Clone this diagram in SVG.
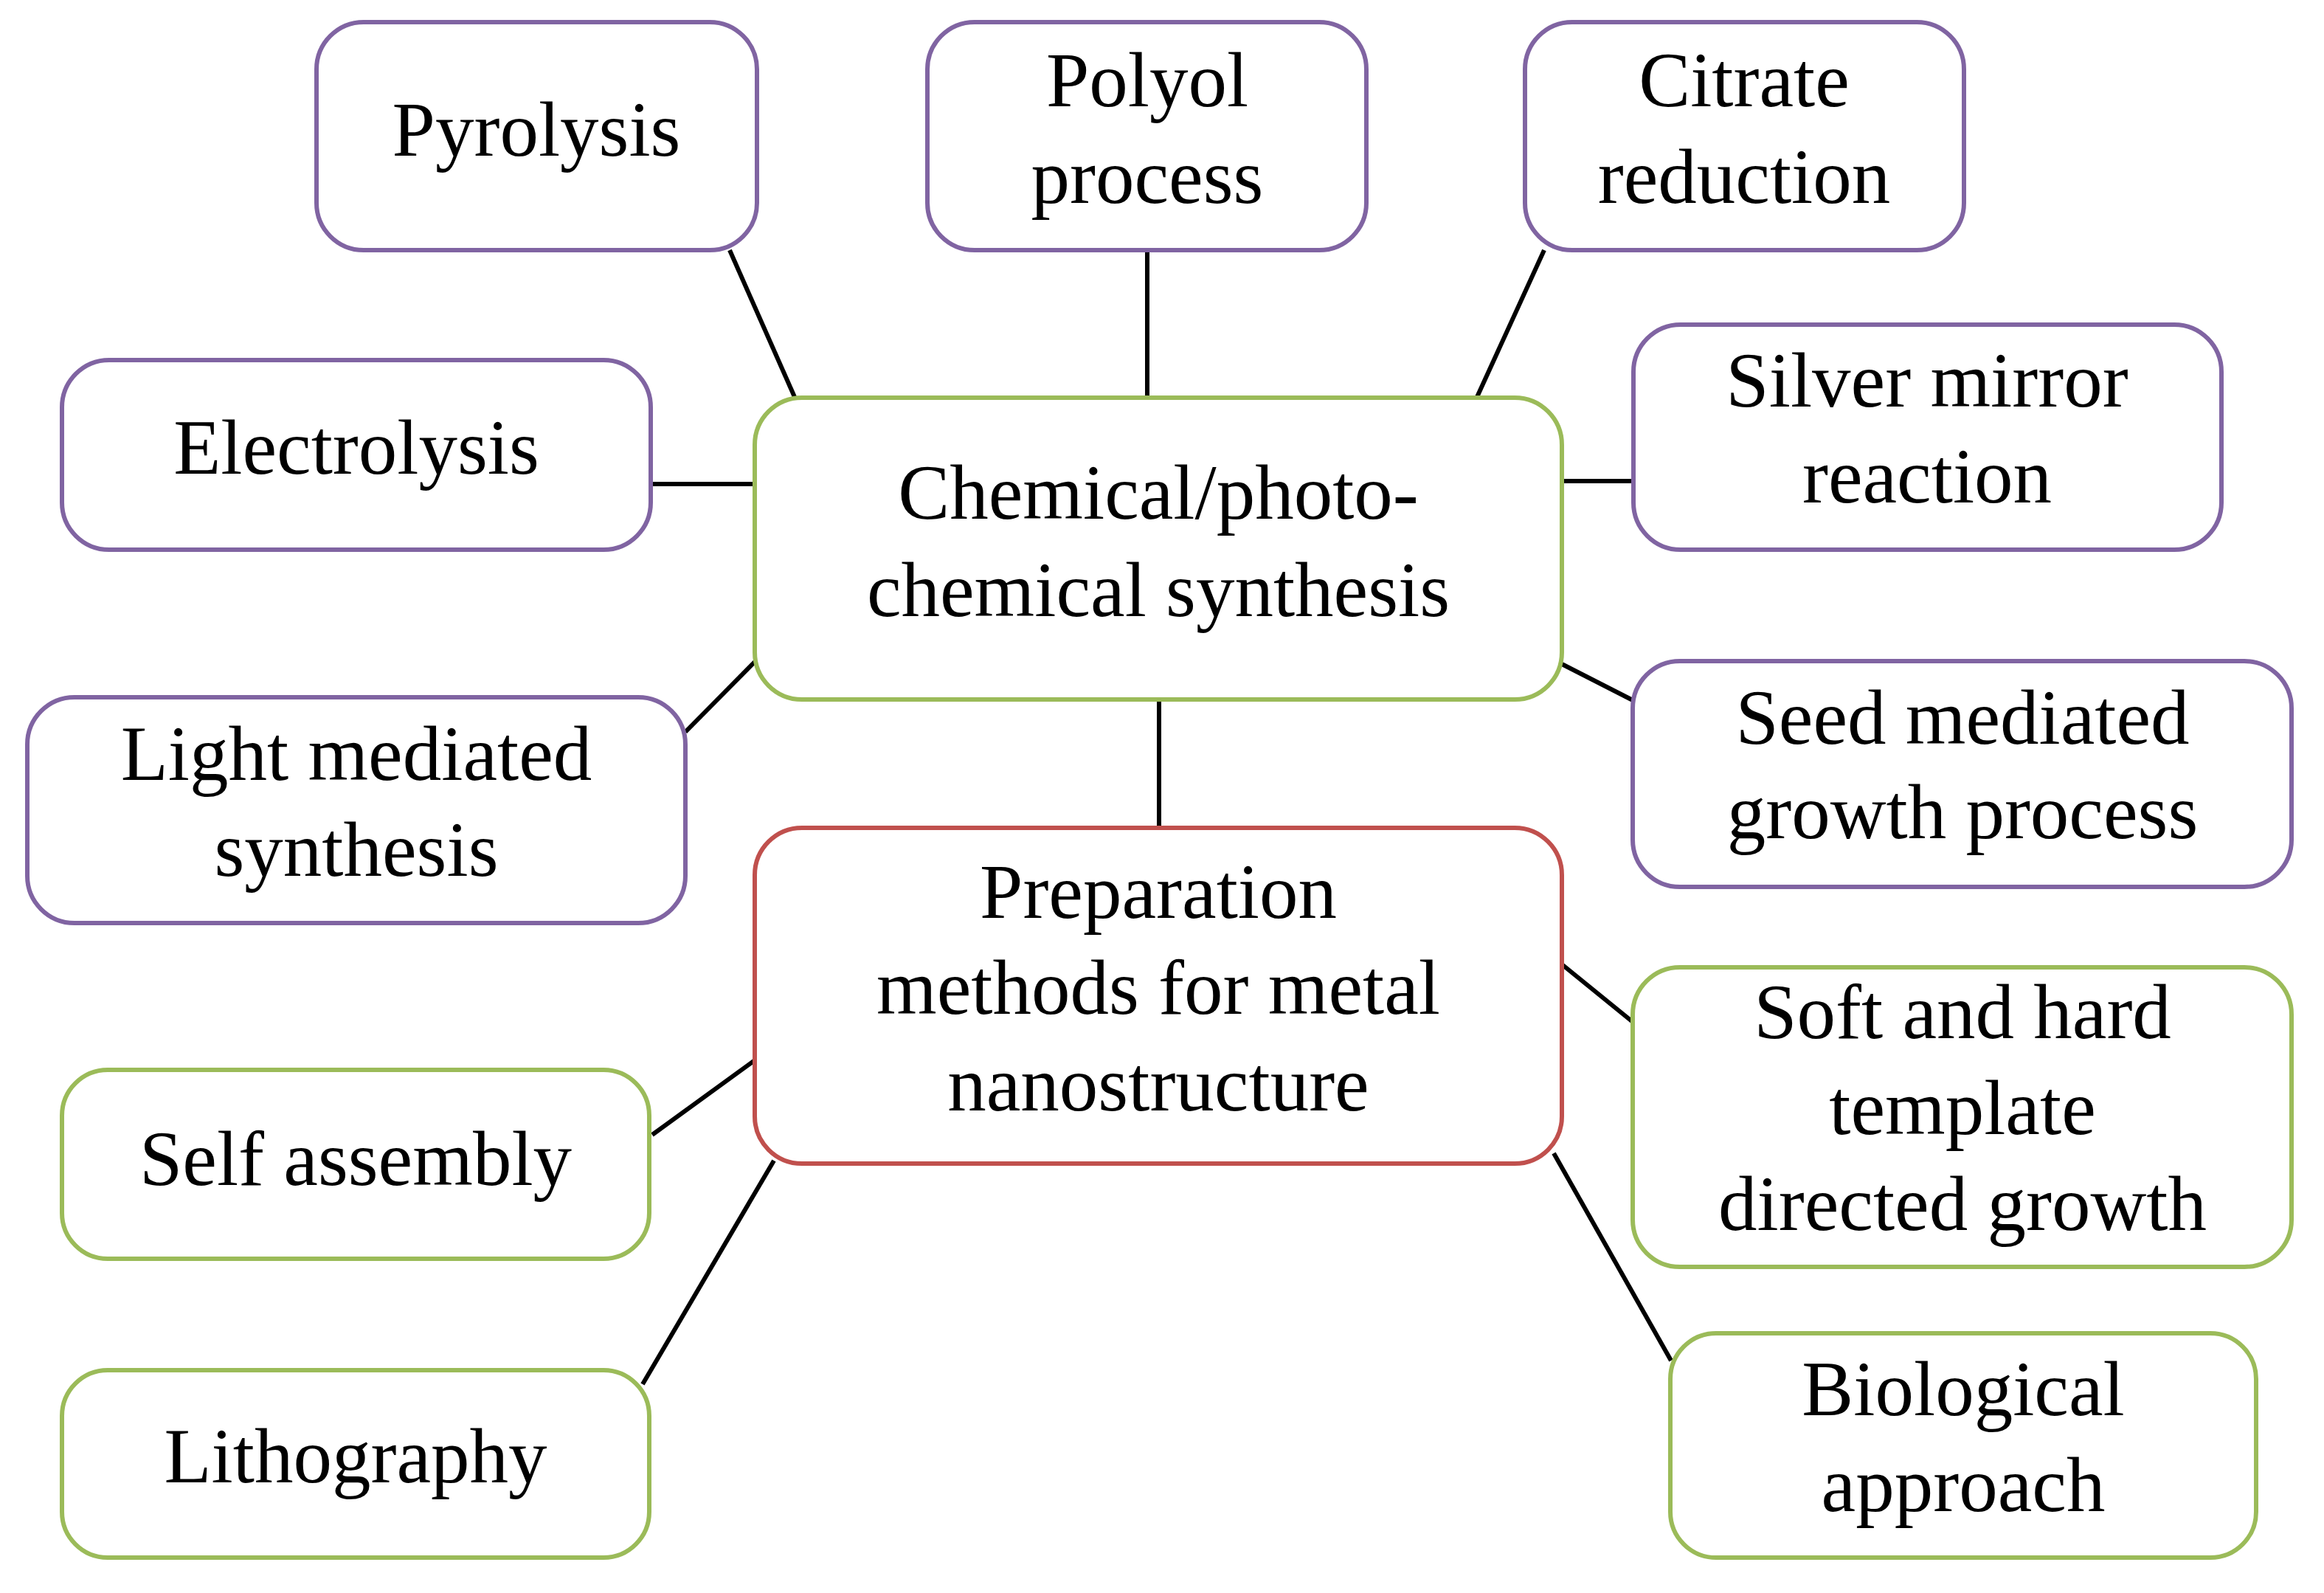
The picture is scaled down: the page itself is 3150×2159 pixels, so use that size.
<svg xmlns="http://www.w3.org/2000/svg" width="3150" height="2159" viewBox="0 0 3150 2159">
<style>
.box{fill:#ffffff;stroke-width:6}
.p{stroke:#8064a2}
.g{stroke:#9bbb59}
.r{stroke:#c0504d}
.t{font-family:"Liberation Serif","Times New Roman",serif;font-size:105px;fill:#000000;text-anchor:middle}
#connectors line{stroke:#000000;stroke-width:6}
</style>
<rect width="3150" height="2159" fill="#ffffff"/>
<g id="connectors">
<line x1="989" y1="339" x2="1077" y2="538"/>
<line x1="1555" y1="339" x2="1555" y2="538"/>
<line x1="2093" y1="339" x2="2002" y2="538"/>
<line x1="882" y1="656" x2="1023" y2="656"/>
<line x1="2117" y1="652" x2="2214" y2="652"/>
<line x1="929" y1="992" x2="1023" y2="897"/>
<line x1="2117" y1="900" x2="2213" y2="949"/>
<line x1="1571" y1="948" x2="1571" y2="1121"/>
<line x1="2117" y1="1307" x2="2213" y2="1385"/>
<line x1="884" y1="1538" x2="1023" y2="1437"/>
<line x1="871" y1="1876" x2="1049" y2="1573"/>
<line x1="2106" y1="1563" x2="2265" y2="1844"/>
</g>
<g id="pyrolysis">
<rect class="box p" x="429" y="30" width="597" height="309" rx="64"/>
<text class="t" x="727" y="211">Pyrolysis</text>
</g>
<g id="polyol">
<rect class="box p" x="1257" y="30" width="595" height="309" rx="64"/>
<text class="t" x="1555" y="144">Polyol</text>
<text class="t" x="1555" y="275">process</text>
</g>
<g id="citrate">
<rect class="box p" x="2067" y="30" width="595" height="309" rx="64"/>
<text class="t" x="2364" y="144">Citrate</text>
<text class="t" x="2364" y="275">reduction</text>
</g>
<g id="electrolysis">
<rect class="box p" x="84" y="488" width="798" height="257" rx="64"/>
<text class="t" x="483" y="642">Electrolysis</text>
</g>
<g id="silver">
<rect class="box p" x="2214" y="440" width="797" height="305" rx="64"/>
<text class="t" x="2612" y="551">Silver mirror</text>
<text class="t" x="2612" y="681">reaction</text>
</g>
<g id="chemical">
<rect class="box g" x="1023" y="539" width="1094" height="409" rx="64"/>
<text class="t" x="1570" y="703">Chemical/photo-</text>
<text class="t" x="1570" y="835">chemical synthesis</text>
</g>
<g id="light">
<rect class="box p" x="37" y="945" width="892" height="306" rx="64"/>
<text class="t" x="483" y="1057">Light mediated</text>
<text class="t" x="483" y="1187">synthesis</text>
</g>
<g id="seed">
<rect class="box p" x="2213" y="896" width="893" height="306" rx="64"/>
<text class="t" x="2660" y="1008">Seed mediated</text>
<text class="t" x="2660" y="1136">growth process</text>
</g>
<g id="preparation">
<rect class="box r" x="1023" y="1122" width="1094" height="455" rx="64"/>
<text class="t" x="1570" y="1244">Preparation</text>
<text class="t" x="1570" y="1374">methods for metal</text>
<text class="t" x="1570" y="1505">nanostructure</text>
</g>
<g id="soft">
<rect class="box g" x="2213" y="1311" width="893" height="406" rx="64"/>
<text class="t" x="2660" y="1407">Soft and hard</text>
<text class="t" x="2660" y="1537">template</text>
<text class="t" x="2660" y="1667">directed growth</text>
</g>
<g id="self">
<rect class="box g" x="84" y="1450" width="796" height="256" rx="62"/>
<text class="t" x="482" y="1606">Self assembly</text>
</g>
<g id="lithography">
<rect class="box g" x="84" y="1857" width="796" height="254" rx="62"/>
<text class="t" x="482" y="2009">Lithography</text>
</g>
<g id="biological">
<rect class="box g" x="2264" y="1807" width="794" height="304" rx="62"/>
<text class="t" x="2661" y="1918">Biological</text>
<text class="t" x="2661" y="2048">approach</text>
</g>
</svg>
